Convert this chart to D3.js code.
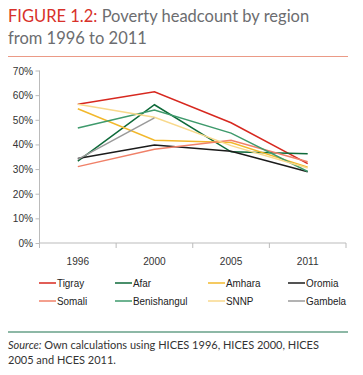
<!DOCTYPE html>
<html lang="en">
<head>
<meta charset="UTF-8">
<title>Poverty headcount by region</title>
<script src="https://d3js.org/d3.v7.min.js"></script>
<style>
    body { margin: 0; background: #fff; }
    .tick text { font-family: "Liberation Sans", Arial, sans-serif; font-size: 11px; fill: #333; }
    .axis path, .axis line { stroke: #bbb; }
    .title { font-family: "Lato", "DejaVu Sans", sans-serif; font-size: 16.5px; }
    .legend text { font-family: "Liberation Sans", Arial, sans-serif; font-size: 11.5px; fill: #222; }
    .source { font-family: "Lato", "DejaVu Sans", sans-serif; font-size: 11px; fill: #333; }
</style>
</head>
<body>
<div id="fig"></div>
<script>
    // data
    let years = ["1996", "2000", "2005", "2011"]
    let regions = ["Tigray", "Afar", "Amhara", "Oromia", "Somali", "Benishangul", "SNNP", "Gambela"]
    let tigray = [56.3, 61.4, 48.8, 32.2]
    let afar = [33.2, 56.1, 37.0, 36.2]
    let amhara = [54.5, 41.7, 40.8, 30.8]
    let oromia = [34.3, 39.8, 37.2, 28.9]
    let somali = [31.0, 38.0, 41.7, 33.0]
    let benishangul = [46.7, 54.0, 44.6, 29.0]
    let snnp = [56.3, 51.0, 39.5, 30.4]
    let gambela = [33.9, 50.8, null, null]
    let yTicks = [0, 10, 20, 30, 40, 50, 60, 70]

    let colors = ["#d7281f", "#0e6a3a", "#f2b82c", "#1b1b1b", "#f08068", "#3e9a6c", "#f8d98c", "#9a9a9a"]
    let series = [tigray, afar, amhara, oromia, somali, benishangul, snnp, gambela]

    let W = 363, H = 375
    let svg = d3.select("#fig").append("svg").attr("width", W).attr("height", H)

    // title
    let t1 = svg.append("text").attr("class", "title").attr("x", 8).attr("y", 22)
    t1.append("tspan").attr("fill", "#d8312a").text("FIGURE 1.2: ")
    t1.append("tspan").attr("fill", "#6c6d70").text("Poverty headcount by region")
    svg.append("text").attr("class", "title").attr("x", 8).attr("y", 44)
        .attr("fill", "#6c6d70").text("from 1996 to 2011")
    svg.append("line").attr("x1", 8).attr("x2", 348).attr("y1", 56.5).attr("y2", 56.5)
        .attr("stroke", "#eb9a86").attr("stroke-width", 1.2)

    let pLeft = 39.5, pRight = 346, pTop = 70.5, pBottom = 243
    let x = d3.scaleBand().domain(years).range([pLeft, pRight])
    let y = d3.scaleLinear().domain([0, 70]).range([pBottom, pTop])

    // axes
    svg.append("g").attr("class", "axis")
        .attr("transform", `translate(${pLeft},0)`)
        .call(d3.axisLeft(y).tickValues(yTicks).tickSize(4).tickPadding(3).tickFormat(d => d + "%"))
        .call(g => g.select(".domain").attr("d", `M0,${pTop}V${pBottom}`))
        .call(g => g.selectAll(".tick text").attr("transform", "scale(0.92,1)"))

    let xg = svg.append("g").attr("class", "axis")
        .attr("transform", `translate(0,${pBottom})`)
        .call(d3.axisBottom(x).tickSize(0).tickPadding(14))
    xg.select(".domain").attr("d", `M${pLeft},0H${pRight}`)
    xg.selectAll(".tick text").attr("transform", "scale(0.92,1)")
    let edges = years.map(d => x(d)).concat([x.range()[1]])
    xg.selectAll(".edge").data(edges).enter().append("line")
        .attr("x1", d => d).attr("x2", d => d).attr("y1", 0).attr("y2", 5)
        .attr("stroke", "#bbb")

    // lines
    let line = d3.line()
        .defined(d => d.v !== null)
        .x(d => x(d.year) + x.bandwidth() / 2)
        .y(d => y(d.v))
    series.forEach(function (s, i) {
        svg.append("path")
            .datum(s.map((v, j) => ({year: years[j], v: v})))
            .attr("d", line)
            .attr("fill", "none")
            .attr("stroke", colors[i])
            .attr("stroke-width", 1.5)
    })

    // legend
    let legX = [39, 115, 208, 288]
    let legY = [283, 301]
    let leg = svg.append("g").attr("class", "legend")
    regions.forEach(function (r, i) {
        let cx = legX[i % 4], cy = legY[Math.floor(i / 4)]
        leg.append("line").attr("x1", cx).attr("x2", cx + 17).attr("y1", cy).attr("y2", cy)
            .attr("stroke", colors[i]).attr("stroke-width", 1.5)
        leg.append("text").attr("transform", `translate(${cx + 18},${cy + 4}) scale(0.86,1)`).text(r)
    })

    // source
    svg.append("line").attr("x1", 8).attr("x2", 348).attr("y1", 332).attr("y2", 332)
        .attr("stroke", "#8db8a6").attr("stroke-width", 1.8)
    let s1 = svg.append("text").attr("class", "source").attr("x", 8).attr("y", 349)
    s1.append("tspan").attr("font-style", "italic").text("Source: ")
    s1.append("tspan").text("Own calculations using HICES 1996, HICES 2000, HICES")
    svg.append("text").attr("class", "source").attr("x", 8).attr("y", 364)
        .text("2005 and HCES 2011.")
</script>
</body>
</html>
